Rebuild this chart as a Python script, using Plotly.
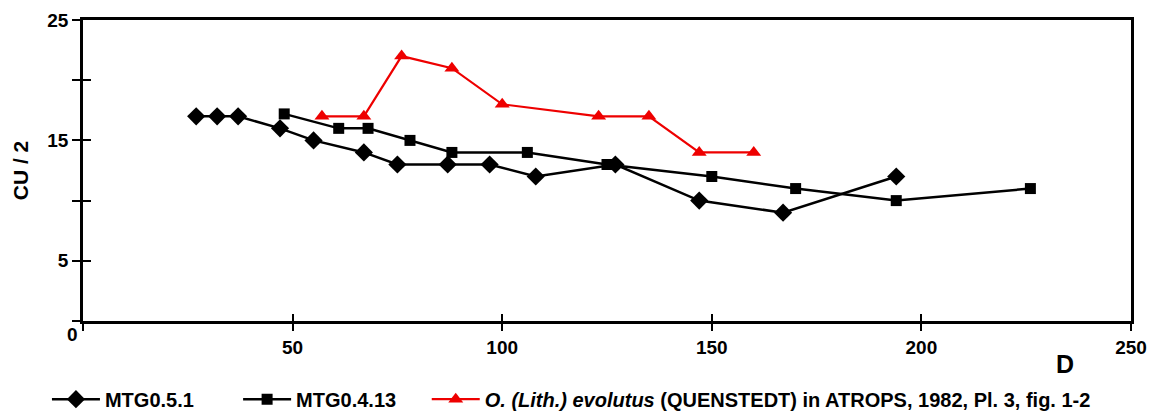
import plotly.graph_objects as go

# Series: shell diameter D vs half umbilical count CU/2
mtg051_d = [27, 32, 37, 47, 55, 67, 75, 87, 97, 108, 127, 147, 167, 194]
mtg051_cu = [17, 17, 17, 16, 15, 14, 13, 13, 13, 12, 13, 10, 9, 12]

mtg0413_d = [48, 61, 68, 78, 88, 106, 125, 150, 170, 194, 226]
mtg0413_cu = [17.2, 16, 16, 15, 14, 14, 13, 12, 11, 10, 11]

evolutus_d = [57, 67, 76, 88, 100, 123, 135, 147, 160]
evolutus_cu = [17, 17, 22, 21, 18, 17, 17, 14, 14]

x_ticks = [0, 50, 100, 150, 200, 250]
x_ticktext = ["", "50", "100", "150", "200", "250"]
y_ticks = [0, 5, 10, 15, 20, 25]
y_ticktext = ["", "5", "", "15", "", "25"]

FONT = "Arial, Liberation Sans, sans-serif"

fig = go.Figure()
fig.add_trace(go.Scatter(
    x=mtg051_d, y=mtg051_cu, mode="lines+markers", name="MTG0.5.1",
    line=dict(color="black", width=2.5),
    marker=dict(symbol="diamond", size=14, color="black"),
    legend="legend", showlegend=True,
))
fig.add_trace(go.Scatter(
    x=mtg0413_d, y=mtg0413_cu, mode="lines+markers", name="MTG0.4.13",
    line=dict(color="black", width=2.5),
    marker=dict(symbol="square", size=11, color="black"),
    legend="legend2", showlegend=True,
))
fig.add_trace(go.Scatter(
    x=evolutus_d, y=evolutus_cu, mode="lines+markers",
    name="<i>O. (Lith.) evolutus</i> (QUENSTEDT) in ATROPS, 1982, Pl. 3, fig. 1-2",
    line=dict(color="#ee0000", width=2.2),
    marker=dict(symbol="triangle-up", size=13, color="#ee0000"),
    legend="legend3", showlegend=True,
))

axis_common = dict(showgrid=False, zeroline=False, automargin=False)


def legend_box(x_pos):
    return dict(
        orientation="h", x=x_pos, y=-0.195, xanchor="left", yanchor="top",
        font=dict(size=20), bgcolor="rgba(0,0,0,0)", itemwidth=48,
        visible=True,
    )


fig.update_layout(
    width=1149, height=412,
    showlegend=True,
    margin=dict(l=83, r=18, t=20, b=91, autoexpand=False),
    paper_bgcolor="white", plot_bgcolor="white",
    font=dict(family=FONT, size=19, color="black", weight="bold"),
    xaxis=dict(
        range=[0, 250], tickvals=x_ticks, ticktext=x_ticktext,
        ticks="outside", ticklen=7, tickwidth=2, tickcolor="black",
        showline=True, linewidth=2.5, linecolor="black", mirror=True,
        tickfont=dict(size=19), **axis_common,
    ),
    yaxis=dict(
        range=[0, 25], tickvals=y_ticks, ticktext=y_ticktext,
        ticks="outside", ticklen=8, tickwidth=2, tickcolor="black",
        showline=True, linewidth=2.5, linecolor="black", mirror=True,
        tickfont=dict(size=19),
        title=dict(text="CU / 2", font=dict(size=21), standoff=13),
        **axis_common,
    ),
    # inner halves of the crossing tick marks
    xaxis2=dict(
        range=[0, 250], tickvals=x_ticks, ticks="inside", ticklen=7,
        tickwidth=2, tickcolor="black", showticklabels=False,
        showline=False, overlaying="x", anchor="y", **axis_common,
    ),
    yaxis2=dict(
        range=[0, 25], tickvals=y_ticks, ticks="inside", ticklen=8,
        tickwidth=2, tickcolor="black", showticklabels=False,
        showline=False, overlaying="y", anchor="x", side="left",
        **axis_common,
    ),
    legend=legend_box(-0.0344),
    legend2=legend_box(0.148),
    legend3=legend_box(0.328),
    annotations=[
        dict(text="D", x=1, y=0, xref="paper", yref="paper",
             xshift=-55, yshift=-59, showarrow=False,
             font=dict(size=25)),
        dict(text="0", x=0, y=0, xref="x", yref="y",
             xshift=-11, yshift=-13, showarrow=False,
             font=dict(size=19)),
    ],
)

# empty trace so the overlay tick axes are drawn
fig.add_trace(go.Scatter(x=[], y=[], xaxis="x2", yaxis="y2",
                         showlegend=False, hoverinfo="skip"))

fig.write_html("out.html")
